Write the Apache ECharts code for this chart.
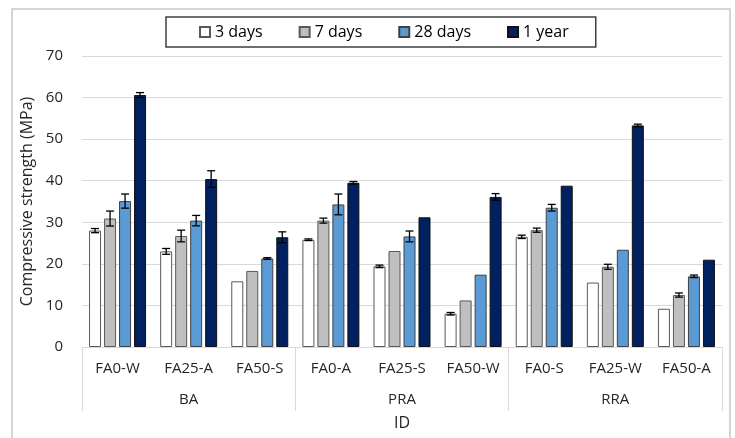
<!DOCTYPE html>
<html>
<head>
<meta charset="utf-8">
<script src="https://cdn.jsdelivr.net/npm/echarts@6/dist/echarts.min.js"></script>
<style>
  html, body { margin: 0; padding: 0; background: #fff; }
  #chart { width: 735px; height: 438px; }
</style>
</head>
<body>
<div id="chart"></div>
<script>
// Mix IDs (inner axis level) and aggregate types (outer axis level)
const mixes = ['FA0-W', 'FA25-A', 'FA50-S', 'FA0-A', 'FA25-S', 'FA50-W', 'FA0-S', 'FA25-W', 'FA50-A'];
const groups = ['BA', 'PRA', 'RRA'];
const ages = ['3 days', '7 days', '28 days', '1 year'];

// Mean compressive strength (MPa)
const days3  = [28.0, 23.0, 15.8, 25.8, 19.4, 8.0, 26.5, 15.5, 9.2];
const days7  = [30.9, 26.7, 18.3, 30.4, 23.1, 11.2, 28.1, 19.3, 12.5];
const days28 = [35.1, 30.4, 21.3, 34.3, 26.6, 17.4, 33.5, 23.4, 17.0];
const year1  = [60.6, 40.4, 26.4, 39.5, 31.2, 36.1, 38.8, 53.3, 21.0];

// Standard deviations (MPa)
const sd3  = [0.5, 0.7, 0, 0.2, 0.3, 0.3, 0.4, 0, 0];
const sd7  = [1.8, 1.4, 0, 0.6, 0, 0, 0.5, 0.6, 0.5];
const sd28 = [1.7, 1.25, 0.2, 2.5, 1.3, 0, 0.8, 0, 0.3];
const sd1y = [0.6, 2.0, 1.3, 0.3, 0, 0.8, 0, 0.3, 0];

const means = [days3, days7, days28, year1];
const sds = [sd3, sd7, sd28, sd1y];
const fills = ['#FFFFFF', '#BFBFBF', '#5B9BD5', '#002060'];
const borders = ['#595959', '#595959', '#404040', '#111111'];

const FONT = '"Open Sans", sans-serif';
const BAR_W = 12;
const BAR_PITCH = 15; // bar width plus the 25% gap

const barSeries = ages.map((name, i) => ({
  name: name,
  type: 'bar',
  xAxisIndex: 0,
  data: means[i],
  barWidth: BAR_W,
  barGap: '25%',
  itemStyle: { color: fills[i], borderColor: borders[i], borderWidth: 1 }
}));

const errData = [];
means.forEach((arr, si) => {
  arr.forEach((v, ci) => {
    if (sds[si][ci] > 0) errData.push([ci, si, v, sds[si][ci]]);
  });
});

const errSeries = {
  type: 'custom',
  xAxisIndex: 0,
  data: errData,
  encode: { x: 0, y: 2 },
  z: 5,
  silent: true,
  renderItem: function (params, api) {
    const ci = api.value(0), si = api.value(1), v = api.value(2), e = api.value(3);
    const off = (si - 1.5) * BAR_PITCH;
    const hi = api.coord([ci, v + e]);
    const lo = api.coord([ci, v - e]);
    const x = hi[0] + off;
    const cap = 4;
    const st = { stroke: '#000', lineWidth: 1.3 };
    return {
      type: 'group',
      children: [
        { type: 'line', shape: { x1: x, y1: hi[1], x2: x, y2: lo[1] }, style: st },
        { type: 'line', shape: { x1: x - cap, y1: hi[1], x2: x + cap, y2: hi[1] }, style: st },
        { type: 'line', shape: { x1: x - cap, y1: lo[1], x2: x + cap, y2: lo[1] }, style: st }
      ]
    };
  }
};

const chart = echarts.init(document.getElementById('chart'), null, { renderer: 'canvas' });
chart.setOption({
  animation: false,
  backgroundColor: '#fff',
  textStyle: { fontFamily: FONT },
  graphic: [{
    type: 'rect',
    shape: { x: 12, y: 9, width: 718, height: 440 },
    style: { fill: 'none', stroke: '#c8c8c8', lineWidth: 1.5 },
    silent: true
  }],
  legend: {
    data: ages,
    left: 166,
    top: 17,
    padding: [7, 27, 7, 33],
    itemWidth: 10,
    itemHeight: 10,
    itemGap: 36,
    icon: 'rect',
    borderColor: '#404040',
    borderWidth: 1.5,
    textStyle: { fontFamily: FONT, fontSize: 16, color: '#000' }
  },
  grid: { left: 82, right: 13, top: 56, bottom: 91, containLabel: false },
  xAxis: [{
    type: 'category',
    data: mixes,
    axisLine: { lineStyle: { color: '#d9d9d9', width: 1 } },
    axisTick: { show: false },
    axisLabel: { interval: 0, fontFamily: FONT, fontSize: 15, color: '#262626', margin: 14 }
  }, {
    type: 'category',
    data: groups,
    position: 'bottom',
    axisLine: { show: false },
    axisTick: { show: true, length: 64, lineStyle: { color: '#d9d9d9', width: 1 } },
    axisLabel: { fontFamily: FONT, fontSize: 15, color: '#262626', margin: 45 },
    name: 'ID',
    nameLocation: 'middle',
    nameGap: 68,
    nameTextStyle: { fontFamily: FONT, fontSize: 16, color: '#262626' }
  }],
  yAxis: {
    type: 'value',
    min: 0,
    max: 70,
    interval: 10,
    axisLine: { show: false },
    axisTick: { show: false },
    splitLine: { lineStyle: { color: '#d9d9d9', width: 1 } },
    axisLabel: { fontFamily: FONT, fontSize: 15, color: '#262626', margin: 19 },
    name: 'Compressive strength (MPa)',
    nameLocation: 'middle',
    nameGap: 46,
    nameTextStyle: { fontFamily: FONT, fontSize: 16, color: '#262626' }
  },
  series: barSeries.concat([errSeries])
});
</script>
</body>
</html>
